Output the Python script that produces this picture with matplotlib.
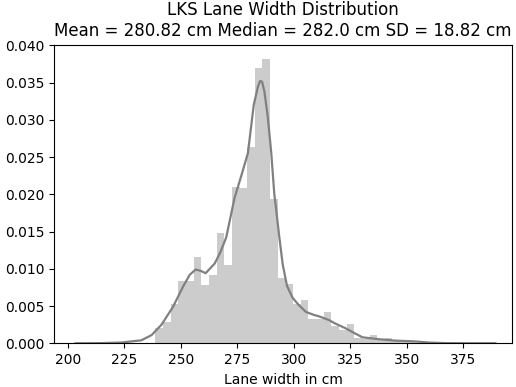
import numpy as np
import matplotlib
matplotlib.use("Agg")
import matplotlib.pyplot as plt

# histogram (density)
bin_start = 238.8
bin_width = 3.383
bar_heights = [0.0020, 0.0029, 0.0053, 0.0083, 0.0084, 0.0116, 0.0078, 0.0092,
               0.0148, 0.0105, 0.0210, 0.0208, 0.0264, 0.0369, 0.0382, 0.0194,
               0.0088, 0.0080, 0.0053, 0.0058, 0.0032, 0.0032, 0.0042, 0.0023,
               0.0018, 0.0026, 0.00075, 0.00054, 0.0011, 0.0004, 0.00075, 0.0004,
               0.0003, 0.0002]

# kde curve points
kde_x = [203.4, 215.0, 223.8, 232.6, 237.1, 241.5, 246.6, 251.0, 254.0, 256.6,
         259.0, 261.0, 265.0, 267.5, 270.1, 273.8, 276.8, 279.7, 282.3, 284.2,
         285.1, 286.0, 287.0, 288.5, 290.0, 291.4, 292.2, 293.5, 295.1, 297.0,
         299.5, 302.0, 305.4, 309.0, 311.3, 315.7, 318.0, 323.0, 326.0, 330.4,
         337.8, 345.1, 352.5, 359.8, 367.2, 380.0, 389.2]
kde_y = [0.0, 0.00002, 0.0001, 0.0004, 0.0011, 0.0025, 0.0049, 0.0076, 0.0092, 0.0099,
         0.0097, 0.0094, 0.0107, 0.0122, 0.0142, 0.0195, 0.0225, 0.0255, 0.0320, 0.0345,
         0.0352, 0.0351, 0.0338, 0.0304, 0.0257, 0.0200, 0.0180, 0.0145, 0.0106, 0.0077,
         0.0061, 0.0052, 0.0042, 0.0038, 0.0036, 0.0031, 0.0027, 0.0020, 0.0015, 0.0008,
         0.00054, 0.00035, 0.00027, 0.0001, 0.00002, 0.0, 0.0]

mean_v, median_v, sd_v = 280.82, 282.0, 18.82

fig = plt.figure(figsize=(5.16, 3.87), dpi=100)
ax = fig.add_axes([0.105, 0.113, 0.887, 0.772])

lefts = bin_start + bin_width * np.arange(len(bar_heights))
ax.bar(lefts, bar_heights, width=bin_width, align='edge', color='grey', alpha=0.4, linewidth=0)
ax.plot(kde_x, kde_y, color='grey', linewidth=1.6)

ax.set_xlim(194.0, 396.5)
ax.set_ylim(0, 0.0401)
ax.set_xticks([200, 225, 250, 275, 300, 325, 350, 375])
ax.set_yticks(np.arange(0, 0.0401, 0.005))
ax.yaxis.set_major_formatter(matplotlib.ticker.FormatStrFormatter('%.3f'))

ax.set_xlabel('Lane width in cm')
ax.set_title('LKS Lane Width Distribution\nMean = %.2f cm Median = %.1f cm SD = %.2f cm'
             % (mean_v, median_v, sd_v), fontsize=12)

fig.savefig('out.png', dpi=100)
